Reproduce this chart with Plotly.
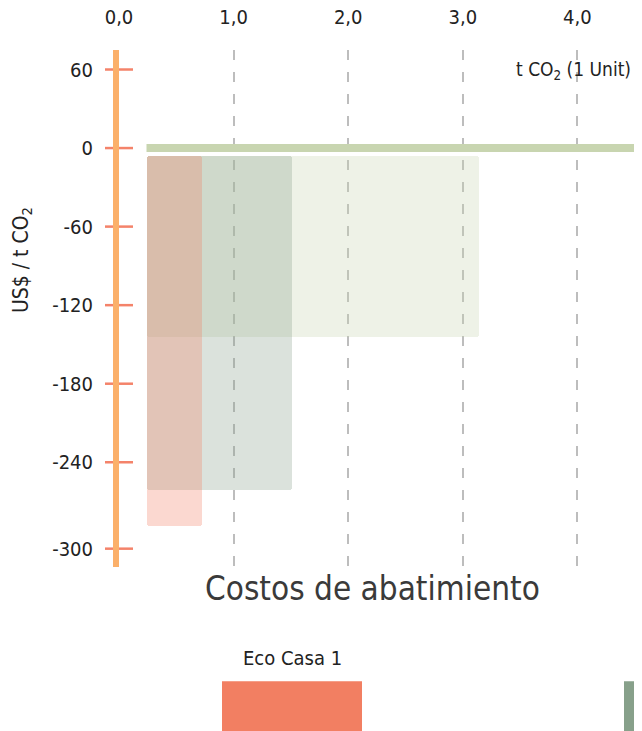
import plotly.graph_objects as go

# ---- data ----
series_names = ["Eco Casa 1", "Eco Casa 2", "Eco Casa 3"]
series_colors = ["#f27f62", "#87a08a", "#c8d5b0"]
x_start = [0.24, 0.24, 0.24]
x_end = [0.72, 1.51, 3.14]
y_bottom = [-289, -261, -144]
bar_top = -6
line_x = [0.24, 4.50]
line_y = [0, 0]
x_ticks = [0, 1, 2, 3, 4]
x_tick_text = ["0,0", "1,0", "2,0", "3,0", "4,0"]
y_ticks = [60, 0, -60, -120, -180, -240, -306]
y_tick_text = ["60", "0", "-60", "-120", "-180", "-240", "-300"]

FONT = "DejaVu Sans Condensed"
fig = go.Figure()

# bars drawn widest first
for i in [2, 1, 0]:
    fig.add_trace(go.Bar(
        x=[x_start[i]], width=[x_end[i] - x_start[i]], offset=0,
        y=[y_bottom[i] - bar_top], base=[bar_top],
        marker=dict(color=series_colors[i], opacity=0.3, line=dict(width=0), cornerradius=3),
        name=series_names[i], showlegend=False, hoverinfo="skip",
    ))

fig.add_trace(go.Scatter(x=line_x, y=line_y, mode="lines",
                         line=dict(color="#c8d5b0", width=8), showlegend=False, hoverinfo="skip"))

# crossing tick marks on y axis
fig.add_trace(go.Scatter(x=[0] * len(y_ticks), y=y_ticks, mode="markers",
                         marker=dict(symbol="line-ew", size=20, line=dict(color="#f4836a", width=2.5)),
                         cliponaxis=False, showlegend=False, hoverinfo="skip"))

OFF = 8  # page offset of the figure
W, H = 642, 731
L = 119 - OFF
T = 50 - OFF
plot_bottom = 566.7 - OFF
B = H - plot_bottom
R = 8
pw = W - L - R
ph = plot_bottom - T

def px(xp):  # page pixel -> paper x
    return (xp - OFF - L) / pw

def py(yp):  # page pixel -> paper y
    return (plot_bottom - (yp - OFF)) / ph

ann = [
    dict(text="Costos de abatimiento", x=px(372), y=py(588), xref="paper", yref="paper",
         xanchor="center", yanchor="middle",
         showarrow=False, font=dict(size=33, color="#3a3a3a", family=FONT)),
    dict(text="t CO<sub>2</sub> (1 Unit)", x=px(633), y=py(70), xref="paper", yref="paper",
         xanchor="right", yanchor="middle", showarrow=False, font=dict(size=19, color="#222", family=FONT)),
    dict(text="US$ / t CO<sub>2</sub>", x=px(22), y=py(260), xref="paper", yref="paper",
         xanchor="center", yanchor="middle",
         textangle=-90, showarrow=False, font=dict(size=21, color="#222", family=FONT)),
]
shapes = []
for k, name in enumerate(series_names):
    cx = 292 + 402 * k
    if cx + 50 < W:
        ann.append(dict(text=name, x=px(cx), y=py(658), xref="paper", yref="paper",
                        xanchor="center", yanchor="middle",
                        showarrow=False, font=dict(size=20, color="#222", family=FONT)))
    shapes.append(dict(type="rect", xref="paper", yref="paper",
                       x0=px(cx - 70), x1=px(cx + 70), y0=py(681), y1=py(760),
                       fillcolor=series_colors[k], line=dict(width=0), layer="above"))

fig.update_layout(
    width=W, height=H, margin=dict(l=L, r=R, t=T, b=B, autoexpand=False),
    paper_bgcolor="white", plot_bgcolor="white",
    barmode="overlay", bargap=0,
    font=dict(family=FONT, size=20, color="#222"),
    annotations=ann, shapes=shapes,
    xaxis=dict(side="top", range=[0, pw / 114.6], tickvals=x_ticks, ticktext=x_tick_text,
               showgrid=True, gridcolor="#bdbdbd", gridwidth=1.5, griddash="10px,12px",
               zeroline=False, showline=False, ticks="", ticklabelstandoff=21, automargin=False,
               tickfont=dict(size=20, color="#222")),
    yaxis=dict(range=[-320, 74.9], tickvals=y_ticks, ticktext=y_tick_text, automargin=False,
               showgrid=False, zeroline=False, showline=True, linecolor="#fbb06a", linewidth=6,
               ticks="", ticklabelstandoff=16, tickfont=dict(size=20, color="#222")),
)

fig.write_html("out.html")
